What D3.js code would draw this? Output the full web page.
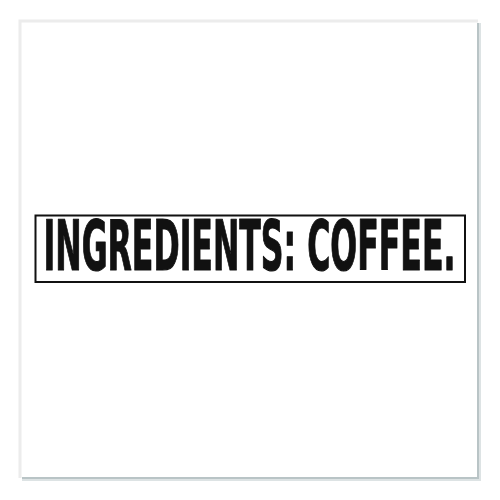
<!DOCTYPE html>
<html><head><meta charset="utf-8">
<script src="https://cdn.jsdelivr.net/npm/d3@7"></script>
<style>html,body{margin:0;padding:0;background:#fff;}svg{display:block;}</style>
</head><body>
<script>
const labelWords = ["INGREDIENTS:", "COFFEE."];
const labelText = labelWords.join(" ");
const frameColors = ["#ececec", "#b9c4c6"];

const W = 500, H = 500;
const svg = d3.select("body").append("svg").attr("width", W).attr("height", H);
svg.append("rect").attr("width", W).attr("height", H).attr("fill", "#fff");

// outer card frame
const x = d3.scaleLinear().domain([0, 1]).range([20, 478]);
const y = d3.scaleLinear().domain([0, 1]).range([21, 478]);
svg.append("path")
  .attr("d", `M${x(0)},${y(1)} L${x(0)},${y(0)} L${x(1)},${y(0)}`)
  .attr("fill", "none").attr("stroke", frameColors[0]).attr("stroke-width", 3);
svg.append("path")
  .attr("d", `M${x(1)+1},${y(0)+2} L${x(1)+1},${y(1)+1} L${x(0)+2},${y(1)+1}`)
  .attr("fill", "none").attr("stroke", "#dde3e4").attr("stroke-width", 4);
svg.append("path")
  .attr("d", `M${x(1)},${y(0)+2} L${x(1)},${y(1)} L${x(0)+2},${y(1)}`)
  .attr("fill", "none").attr("stroke", frameColors[1]).attr("stroke-width", 2);

// inner box
const bx = d3.scaleLinear().domain([0, 1]).range([35.5, 465]);
const by = d3.scaleLinear().domain([0, 1]).range([215.5, 282]);
svg.append("rect")
  .attr("x", bx(0)).attr("y", by(0))
  .attr("width", bx(1) - bx(0)).attr("height", by(1) - by(0))
  .attr("fill", "none").attr("stroke", "#111").attr("stroke-width", 2);

const g = svg.append("g");
const t = g.append("text")
  .attr("x", 0).attr("y", 0)
  .attr("font-family", "'Liberation Sans Narrow', 'DejaVu Sans Condensed', sans-serif")
  .attr("font-weight", "bold")
  .attr("font-size", 70)
  .attr("fill", "#111")
  .attr("stroke", "#111")
  .attr("stroke-width", 1.2)
  .attr("stroke-linejoin", "round")
  .text(labelText);
const natural = t.node().getComputedTextLength();
const targetW = 412;
g.attr("transform", `translate(43.5,270) scale(${targetW / natural},1)`);
</script>
</body></html>
